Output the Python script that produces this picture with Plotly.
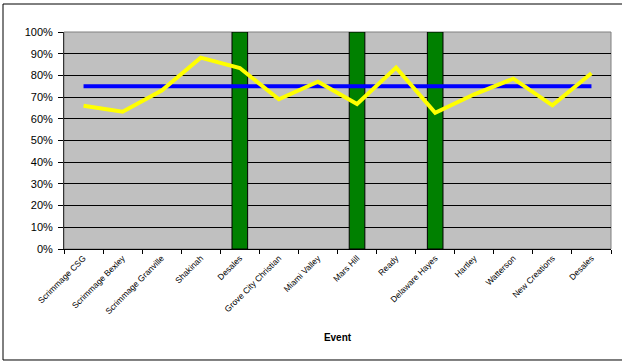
import plotly.graph_objects as go

events = ["Scrimmage CSG", "Scrimmage Bexley", "Scrimmage Granville", "Shakinah",
          "Desales", "Grove City Christian", "Miami Valley", "Mars Hill", "Ready",
          "Delaware Hayes", "Hartley", "Watterson", "New Creations", "Desales"]
pct = [0.66, 0.633, 0.73, 0.882, 0.834, 0.69, 0.771, 0.668, 0.836, 0.628,
       0.713, 0.785, 0.662, 0.81]
goal = [0.75] * 14
marked = [None, None, None, None, 1.0, None, None, 1.0, None, 1.0, None, None, None, None]
y_ticks = [0, 0.1, 0.2, 0.3, 0.4, 0.5, 0.6, 0.7, 0.8, 0.9, 1.0]

x = list(range(len(events)))
FONT = "Liberation Sans, Arial, sans-serif"

fig = go.Figure()
fig.add_trace(go.Bar(x=x, y=marked, width=0.4, marker=dict(color="#008000",
                     line=dict(color="black", width=1)), showlegend=False))
fig.add_trace(go.Scatter(x=x, y=goal, mode="lines", line=dict(color="#0000FF", width=4),
                         showlegend=False))
fig.add_trace(go.Scatter(x=x, y=pct, mode="lines", line=dict(color="#FFFF00", width=4),
                         showlegend=False))

border = dict(color="black", width=1)
fig.update_layout(
    template="none",
    width=622, height=361,
    margin=dict(l=64, r=11, t=32, b=112),
    paper_bgcolor="white", plot_bgcolor="#C0C0C0",
    font=dict(family=FONT, color="black"),
    xaxis=dict(range=[-0.5, 13.5], tickvals=x, ticktext=events, tickangle=-45,
               tickfont=dict(size=8.5, color="black"), ticks="", showgrid=False, zeroline=False,
               showline=True, linecolor="black", linewidth=1,
               minor=dict(tick0=-0.5, dtick=1, ticks="outside", ticklen=4,
                          tickcolor="black", showgrid=False),
               title=dict(text="<b>Event</b>", font=dict(size=10, color="black"), standoff=18)),
    yaxis=dict(range=[0, 1], tickvals=y_ticks, tickformat=".0%",
               tickfont=dict(size=11, color="black"),
               ticks="outside", ticklen=5, tickcolor="black", ticklabelstandoff=3,
               showgrid=True, gridcolor="black", gridwidth=1, zeroline=False,
               showline=True, linecolor="#333333", linewidth=1),
    shapes=[
        dict(type="rect", xref="paper", yref="paper", x0=0, x1=1, y0=0, y1=1,
             line=dict(color="#808080", width=1), layer="below"),
        dict(type="line", xref="paper", yref="paper", x0=-0.1115, x1=-0.1115,
             y0=-0.5115, y1=1.129, line=border),
        dict(type="line", xref="paper", yref="paper", x0=-0.1115, x1=1.1,
             y0=1.129, y1=1.129, line=border),
        dict(type="line", xref="paper", yref="paper", x0=-0.1115, x1=1.1,
             y0=-0.5115, y1=-0.5115, line=border),
    ],
    bargap=0.6,
)

fig.write_html("out.html", config={"displayModeBar": False},
               post_script="document.body.style.margin='0';document.body.style.overflow='hidden';")
